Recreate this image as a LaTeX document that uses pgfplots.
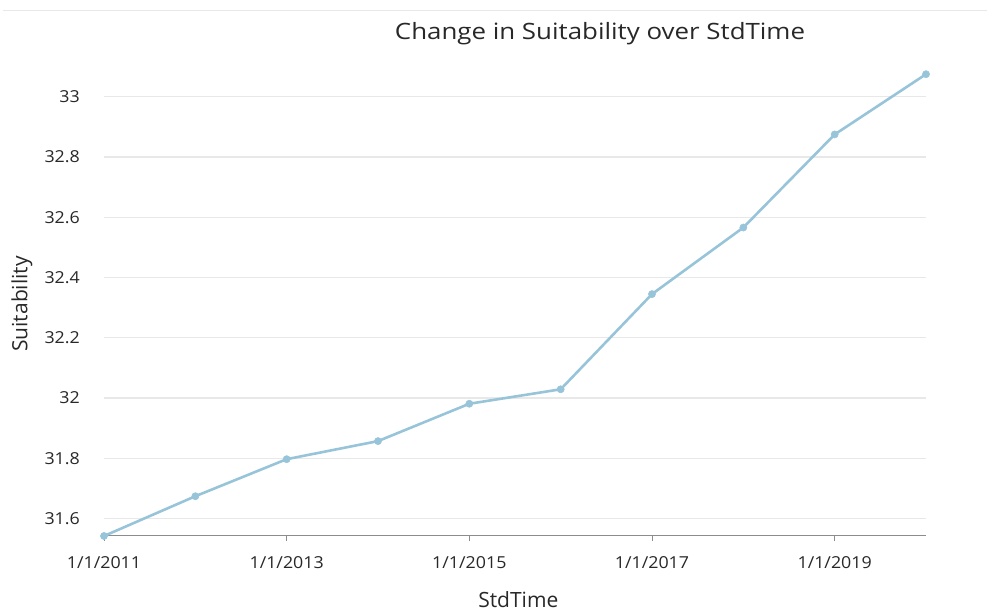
\documentclass[border=0pt]{standalone}
\usepackage{pgfplots}
\pgfplotsset{compat=1.18}
\usepackage{fontspec}
\setmainfont{Open Sans}
\newfontfamily\titlefont{Open Sans}[FakeStretch=1.15]
\newfontfamily\tickfont{Open Sans}[FakeStretch=1.08]
\definecolor{linec}{RGB}{152,196,218}
\definecolor{gridc}{RGB}{232,232,232}
\definecolor{axisc}{RGB}{140,140,140}
\definecolor{txt}{RGB}{40,40,40}
\begin{document}
\begin{tikzpicture}[x=1pt,y=1pt]
\useasboundingbox (0,0) rectangle (987,612);
\draw[gridc, line width=1pt] (3,601) -- (987,601);
\begin{axis}[
  at={(104pt,76pt)}, anchor=south west,
  scale only axis, width=822pt, height=463.3pt,
  xmin=2011, xmax=2020, ymin=31.542, ymax=33.08,
  axis x line*=bottom, axis y line*=left,
  x axis line style={axisc, line width=1pt, -},
  y axis line style={draw=none},
  xtick={2011,2013,2015,2017,2019},
  xticklabels={1/1/2011,1/1/2013,1/1/2015,1/1/2017,1/1/2019},
  ytick={31.6,31.8,32,32.2,32.4,32.6,32.8,33},
  yticklabels={31.6,31.8,32,32.2,32.4,32.6,32.8,33},
  ymajorgrids, major grid style={gridc, line width=1.2pt},
  tick align=outside, major tick length=5pt,
  xtick style={axisc, line width=1pt}, ytick style={draw=none},
  ticklabel style={font=\tickfont\fontsize{16.5}{19}\selectfont, text=txt},
  yticklabel style={anchor=east, inner sep=0pt, xshift=-19pt},
  xticklabel style={anchor=north, inner sep=0pt, yshift=-15pt},
  xlabel={StdTime}, ylabel={Suitability},
  label style={font=\fontsize{21}{24}\selectfont, text=txt},
  xlabel style={at={(axis description cs:0.504,-0.138)}, anchor=center},
  ylabel style={at={(axis description cs:-0.0998,0.5008)}, anchor=center, rotate=0},
  title={Change in Suitability over StdTime},
  title style={at={(axis description cs:0.6034,1.071)}, anchor=center, font=\titlefont\fontsize{22.5}{26}\selectfont, text=txt},
  clip=false,
]
\addplot[color=linec, line width=2.6pt, mark=*, mark size=3.6pt, mark options={solid, fill=linec, draw=linec, line width=0.5pt}] coordinates {
  (2011,31.542) (2012,31.674) (2013,31.797) (2014,31.857) (2015,31.981)
  (2016,32.029) (2017,32.345) (2018,32.566) (2019,32.875) (2020,33.075)
};
\end{axis}
\end{tikzpicture}
\end{document}
